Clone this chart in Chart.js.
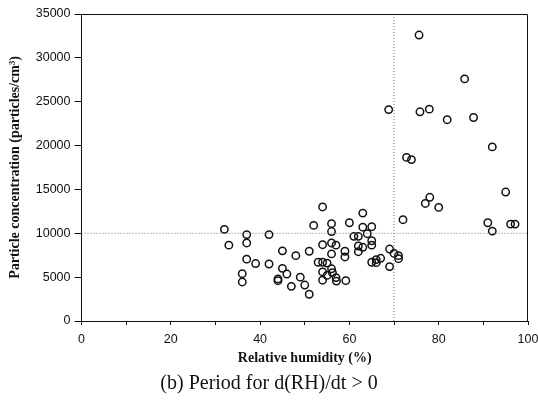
<!DOCTYPE html>
<html>
<head>
<meta charset="utf-8">
<script src="https://cdn.jsdelivr.net/npm/chart.js@4/dist/chart.umd.min.js"></script>
<style>
  html, body { margin: 0; padding: 0; background: #fff; }
  #wrap { width: 538px; height: 406px; }
</style>
</head>
<body>
<div id="wrap"><canvas id="rhChart" width="538" height="406"></canvas></div>
<script>
// relative humidity (%) and particle concentration (particles/cm3)
var rh = [32, 33, 36, 36, 37, 37, 37, 39, 42, 42, 44, 44, 45, 45, 46, 47, 48, 49, 50, 51,
          51, 52, 53, 54, 54, 54, 54, 54, 55, 55, 56, 56, 56, 56, 56, 56.2, 57, 57, 57.1, 59,
          59, 59.2, 60, 61, 62, 62, 62, 63, 63, 63, 64, 65, 65, 65, 65, 66, 66, 67, 68.8, 69,
          69, 70, 71, 71, 72, 72.8, 73.9, 75.6, 75.8, 77, 77.9, 78, 80, 81.9, 85.8, 87.8, 91, 92, 92, 95,
          96.1, 97.1];
var conc = [10450, 8650, 5400, 4450, 9850, 8900, 7050, 6550, 9850, 6500, 4800, 4600, 8000, 6000, 5350, 3950, 7450, 5000, 4100, 3050,
            7950, 10900, 6700, 13000, 8700, 6700, 5600, 4650, 6600, 5200, 11100, 10200, 8900, 7650, 5950, 5500, 8650, 4950, 4550, 7950,
            7300, 4600, 11200, 9650, 9650, 8550, 7900, 12300, 10700, 8400, 9950, 10750, 9150, 8650, 6700, 7000, 6650, 7150, 24100, 8200,
            6200, 7700, 7450, 7100, 11550, 18650, 18400, 32600, 23850, 13400, 24150, 14100, 12950, 22950, 27600, 23200, 11200, 19850, 10250, 14700,
            11050, 11050];

// dotted reference lines
var refRhX = [70, 70];
var refRhY = [0, 35000];
var refConcX = [0, 100];
var refConcY = [10000, 10000];

var xTicks = [0, 20, 40, 60, 80, 100];
var yTicks = [0, 5000, 10000, 15000, 20000, 25000, 30000, 35000];

function pairs(xs, ys) {
    var out = [];
    for (var i = 0; i < xs.length; i++) out.push({x: xs[i], y: ys[i]});
    return out;
}

var frame = {
    id: 'frame',
    afterDatasetsDraw: function (chart) {
        var a = chart.chartArea, ctx = chart.ctx;
        ctx.save();
        ctx.strokeStyle = '#111';
        ctx.lineWidth = 1;
        ctx.beginPath();
        ctx.moveTo(a.left, a.top + 0.5);
        ctx.lineTo(a.right - 0.5, a.top + 0.5);
        ctx.lineTo(a.right - 0.5, a.bottom);
        ctx.stroke();
        ctx.restore();
    }
};

var tickFont = {family: '"Liberation Sans", Arial, sans-serif', size: 12.5};
var titleFont = {family: '"Liberation Serif", "Times New Roman", serif', size: 14, weight: 'bold'};

new Chart(document.getElementById('rhChart').getContext('2d'), {
    type: 'scatter',
    data: {
        datasets: [
            {
                label: 'RH 70%',
                type: 'line',
                data: pairs(refRhX, refRhY),
                borderColor: '#777',
                borderWidth: 1,
                borderDash: [1, 2],
                pointRadius: 0,
                fill: false
            },
            {
                label: '10000',
                type: 'line',
                data: pairs(refConcX, refConcY),
                borderColor: '#777',
                borderWidth: 1,
                borderDash: [1, 2],
                pointRadius: 0,
                fill: false
            },
            {
                label: 'd(RH)/dt > 0',
                data: pairs(rh, conc),
                pointStyle: 'circle',
                pointRadius: 3.7,
                pointBorderWidth: 1.5,
                pointBorderColor: '#111',
                pointBackgroundColor: 'rgba(255,255,255,0)'
            }
        ]
    },
    options: {
        responsive: false,
        animation: false,
        layout: {padding: {left: 0, top: 14, right: 0, bottom: 0}},
        plugins: {
            legend: {display: false},
            tooltip: {enabled: false},
            title: {
                display: true,
                position: 'bottom',
                text: '(b) Period for d(RH)/dt > 0',
                color: '#111',
                font: {family: '"Liberation Serif", "Times New Roman", serif', size: 20, weight: 'normal'},
                padding: {top: 2, bottom: 10}
            }
        },
        scales: {
            x: {
                type: 'linear',
                min: 0,
                max: 100,
                afterFit: function (s) {
                    s.height = 49;
                    s.paddingLeft = 0;
                    s.paddingRight = 10;
                },
                afterBuildTicks: function (s) {
                    s.ticks = [0, 10, 20, 30, 40, 50, 60, 70, 80, 90, 100].map(function (v) { return {value: v}; });
                },
                ticks: {
                    color: '#111',
                    font: tickFont,
                    padding: 7,
                    maxRotation: 0,
                    autoSkip: false,
                    callback: function (v) { return xTicks.indexOf(v) >= 0 ? v : ''; }
                },
                grid: {drawOnChartArea: false, drawTicks: true, tickLength: 4, color: '#111'},
                border: {display: true, color: '#111', width: 1},
                title: {
                    display: true,
                    text: 'Relative humidity (%)',
                    color: '#111',
                    font: titleFont,
                    padding: {top: 0, bottom: 3.6}
                }
            },
            y: {
                type: 'linear',
                min: 0,
                max: 35000,
                afterFit: function (s) { s.width = 81.5; },
                afterBuildTicks: function (s) {
                    s.ticks = yTicks.map(function (v) { return {value: v}; });
                },
                ticks: {
                    color: '#111',
                    font: tickFont,
                    padding: 4,
                    callback: function (v) { return String(v); }
                },
                grid: {drawOnChartArea: false, drawTicks: true, tickLength: 7, color: '#111'},
                border: {display: true, color: '#111', width: 1},
                title: {
                    display: true,
                    text: 'Particle concentration (particles/cm³)',
                    color: '#111',
                    font: titleFont,
                    padding: {top: 6.6, bottom: 0}
                }
            }
        }
    },
    plugins: [frame]
});
</script>
</body>
</html>
